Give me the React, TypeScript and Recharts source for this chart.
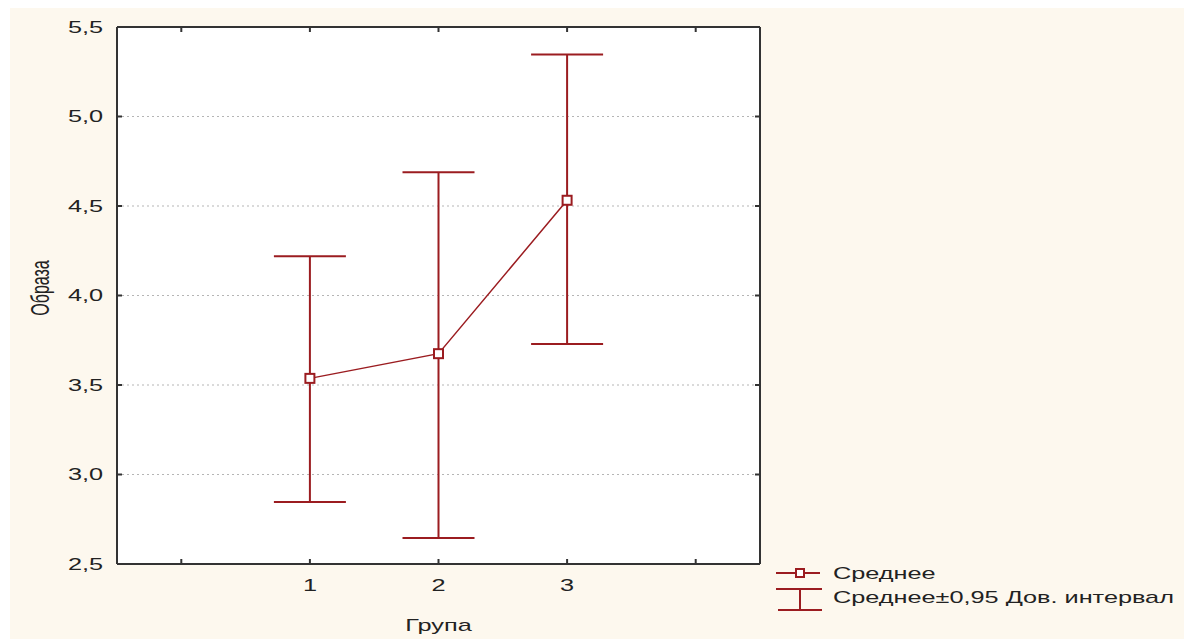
import React from "react";
import {
  ComposedChart,
  Line,
  ErrorBar,
  XAxis,
  YAxis,
  CartesianGrid,
  Legend,
  Label,
} from "recharts";

// ---- data ----
const groups = [1, 2, 3];
const means = [3.537, 3.675, 4.532];
const lows = [2.846, 2.645, 3.729];
const highs = [4.219, 4.688, 5.347];
const xTicks = [0, 1, 2, 3, 4];
const xTickLabels = ["", "1", "2", "3", ""];
const yTicks = [2.5, 3.0, 3.5, 4.0, 4.5, 5.0, 5.5];
const xTitle = "Група";
const yTitle = "Образа";
const legendNames = ["Среднее", "Среднее±0,95 Дов. интервал"];

const data = groups.map((g, i) => ({
  x: g,
  mean: means[i],
  err: [means[i] - lows[i], highs[i] - means[i]],
}));

// ---- styles ----
const RED = "#9b1c20";
const AXIS = "#333";
const TXT = "#222";
const FONT = '"Liberation Sans", Arial, sans-serif';
const FS = 16;
const SX = 1.58;

const fmt = (v: number) => v.toFixed(1).replace(".", ",");

function StretchText(props: any) {
  const { x, y, anchor = "middle", rotate = false, children } = props;
  return (
    <g transform={`translate(${x},${y}) scale(${SX},1)${rotate ? " rotate(-90)" : ""}`}>
      <text x={0} y={0} dy="0.35em" textAnchor={anchor} fontFamily={FONT} fontSize={FS} fill={TXT}>
        {children}
      </text>
    </g>
  );
}

const LeftTick = (p: any) => (
  <g>
    <line x1={p.x} x2={p.x + 5} y1={p.y} y2={p.y} stroke={AXIS} strokeWidth={2} />
    <StretchText x={p.x - 14} y={p.y} anchor="end">
      {fmt(p.payload.value)}
    </StretchText>
  </g>
);

const RightTick = (p: any) => (
  <line x1={p.x} x2={p.x - 5} y1={p.y} y2={p.y} stroke={AXIS} strokeWidth={2} />
);

const BottomTick = (p: any) => {
  const idx = xTicks.indexOf(p.payload.value);
  return (
    <g>
      <line x1={p.x} x2={p.x} y1={p.y} y2={p.y - 5} stroke={AXIS} strokeWidth={2} />
      <StretchText x={p.x} y={p.y + 21} anchor="middle">
        {idx >= 0 ? xTickLabels[idx] : ""}
      </StretchText>
    </g>
  );
};

const TopTick = (p: any) => (
  <line x1={p.x} x2={p.x} y1={p.y} y2={p.y + 5} stroke={AXIS} strokeWidth={2} />
);

const SquareDot = (p: any) => {
  const { cx, cy, index } = p;
  if (cx == null || cy == null) return <g key={`d${index}`} />;
  return (
    <rect
      key={`d${index}`}
      x={cx - 4.5}
      y={cy - 4.5}
      width={9}
      height={9}
      fill="#fff"
      stroke={RED}
      strokeWidth={2}
    />
  );
};

const LegendContent = () => (
  <svg width={420} height={60} style={{ display: "block" }}>
    <line x1={0} x2={44} y1={13} y2={13} stroke={RED} strokeWidth={2} />
    <rect x={20} y={9} width={8} height={8} fill="#fff" stroke={RED} strokeWidth={2} />
    <StretchText x={57} y={13} anchor="start">
      {legendNames[0]}
    </StretchText>
    <line x1={0} x2={46} y1={29} y2={29} stroke={RED} strokeWidth={2} />
    <line x1={24} x2={24} y1={29} y2={50} stroke={RED} strokeWidth={2} />
    <line x1={2} x2={46} y1={50} y2={50} stroke={RED} strokeWidth={2} />
    <StretchText x={57} y={37} anchor="start">
      {legendNames[1]}
    </StretchText>
  </svg>
);

export default function App() {
  return (
    <div style={{ width: 1180, height: 631, marginLeft: 2, background: "#fdf8ee" }}>
      <ComposedChart
        width={1180}
        height={631}
        data={data}
        margin={{ top: 18, right: 429, bottom: 74, left: 106 }}
      >
        <CartesianGrid vertical={false} stroke="#b5b5b5" strokeDasharray="2 3" fill="#fff" />
        <XAxis
          dataKey="x"
          type="number"
          domain={[-0.5, 4.5]}
          ticks={xTicks}
          height={1}
          tickSize={0}
          tickMargin={0}
          tickLine={false}
          axisLine={{ stroke: AXIS, strokeWidth: 2 }}
          tick={<BottomTick />}
          allowDataOverflow
        >
          <Label
            content={(lp: any) => {
              const vb = lp.viewBox || {};
              return (
                <StretchText x={vb.x + vb.width / 2} y={617}>
                  {xTitle}
                </StretchText>
              );
            }}
          />
        </XAxis>
        <XAxis
          xAxisId="top"
          orientation="top"
          dataKey="x"
          type="number"
          domain={[-0.5, 4.5]}
          ticks={xTicks}
          height={1}
          tickSize={0}
          tickMargin={0}
          tickLine={false}
          axisLine={{ stroke: AXIS, strokeWidth: 2 }}
          tick={<TopTick />}
          allowDataOverflow
        />
        <YAxis
          type="number"
          domain={[2.5, 5.5]}
          ticks={yTicks}
          width={1}
          tickSize={0}
          tickMargin={0}
          tickLine={false}
          axisLine={{ stroke: AXIS, strokeWidth: 2 }}
          tick={<LeftTick />}
          allowDataOverflow
        >
          <Label
            content={(lp: any) => {
              const vb = lp.viewBox || {};
              return (
                <StretchText x={30} y={280} rotate>
                  {yTitle}
                </StretchText>
              );
            }}
          />
        </YAxis>
        <YAxis
          yAxisId="right"
          orientation="right"
          type="number"
          domain={[2.5, 5.5]}
          ticks={yTicks}
          width={1}
          tickSize={0}
          tickMargin={0}
          tickLine={false}
          axisLine={{ stroke: AXIS, strokeWidth: 2 }}
          tick={<RightTick />}
          allowDataOverflow
        />
        <Line
          dataKey="mean"
          name={legendNames[0]}
          stroke={RED}
          strokeWidth={1.5}
          dot={SquareDot}
          activeDot={false}
          isAnimationActive={false}
        >
          <ErrorBar
            dataKey="err"
            direction="y"
            width={36}
            stroke={RED}
            strokeWidth={2}
            isAnimationActive={false}
          />
        </Line>
        <Legend
          layout="vertical"
          align="center"
          verticalAlign="middle"
          content={<LegendContent />}
          wrapperStyle={{ left: 766, top: 552, width: 420, height: 60 }}
        />
      </ComposedChart>
    </div>
  );
}
